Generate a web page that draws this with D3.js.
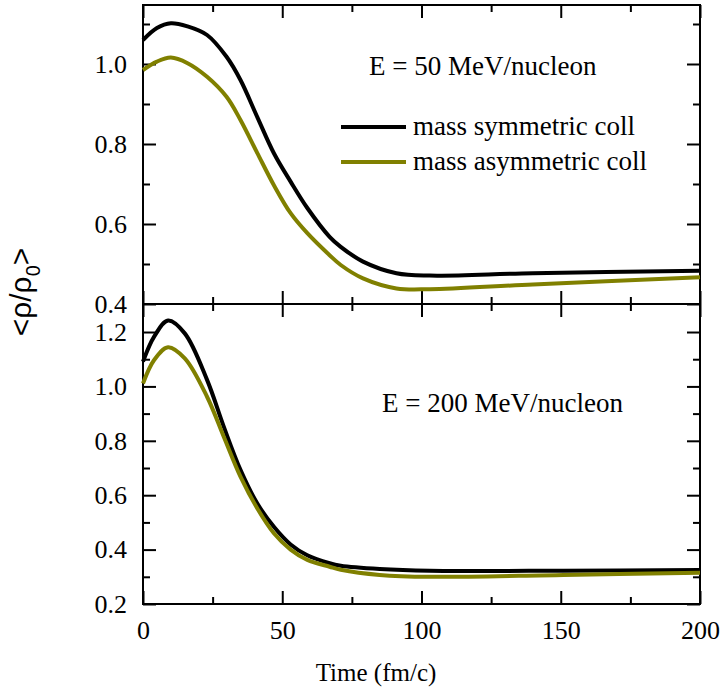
<!DOCTYPE html>
<html>
<head>
<meta charset="utf-8">
<script src="https://cdn.jsdelivr.net/npm/d3@7"></script>
<style>
  body { margin: 0; background: #fff; }
  text { font-family: "Liberation Serif", "Times New Roman", serif; fill: #000; }
  .tick line { stroke: #000; stroke-width: 2; }
  .domain { display: none; }
</style>
</head>
<body>
<svg id="chart"></svg>
<script>
// time values (fm/c)
var timeTop = [0, 5, 10, 16, 23, 30, 35, 41, 47, 53, 59, 67, 71, 79, 91, 103, 140, 200];
var symTop  = [1.06, 1.09, 1.102, 1.094, 1.0725, 1.018, 0.96, 0.868, 0.777, 0.706, 0.64, 0.568, 0.543, 0.506, 0.477, 0.471, 0.477, 0.483];
var asymTop = [0.985, 1.006, 1.016, 1.002, 0.968, 0.918, 0.86, 0.778, 0.697, 0.627, 0.577, 0.522, 0.4975, 0.464, 0.439, 0.437, 0.449, 0.467];

var timeBot = [0, 4, 9, 15, 23, 29, 35, 41, 47, 53, 59, 67, 71, 85, 103, 151, 200];
var symBot  = [1.091, 1.183, 1.242, 1.195, 1.024, 0.852, 0.693, 0.570, 0.484, 0.419, 0.379, 0.350, 0.341, 0.329, 0.3225, 0.3225, 0.325];
var asymBot = [1.011, 1.097, 1.144, 1.103, 0.962, 0.815, 0.668, 0.552, 0.46, 0.40, 0.362, 0.337, 0.326, 0.307, 0.300, 0.307, 0.315];

var xMajor = [0, 50, 100, 150, 200];
var xMinor = [25, 75, 125, 175];
var yTopMajor = [0.4, 0.6, 0.8, 1.0];
var yTopMinor = [0.5, 0.7, 0.9, 1.1];
var yBotMajor = [0.2, 0.4, 0.6, 0.8, 1.0, 1.2];
var yBotMinor = [0.3, 0.5, 0.7, 0.9, 1.1];

var seriesNames = ["mass symmetric coll", "mass asymmetric coll"];
var colors = ["#000000", "#808000"];

var width = 723, height = 693;
var left = 143, right = 700;
var serif = "Liberation Serif, Times New Roman, serif";

var svg = d3.select("#chart")
    .attr("width", width)
    .attr("height", height);

var x = d3.scaleLinear().domain([0, 200]).range([left, right]);

function axisFont(sel) {
  sel.attr("font-family", serif).attr("font-size", 26);
  sel.selectAll("text").attr("font-family", serif).attr("font-size", 26).attr("fill", "#000");
}

function drawPanel(top, bottom, yDomain, majors, minors, times, sets, showX) {
  var y = d3.scaleLinear().domain(yDomain).range([bottom, top]);
  var g = svg.append("g");

  // inward ticks on all four sides
  g.append("g").attr("transform", "translate(" + left + ",0)")
    .call(d3.axisLeft(y).tickValues(majors).tickSize(-13).tickSizeOuter(0).tickPadding(16)
      .tickFormat(d3.format(".1f")))
    .call(axisFont);
  g.append("g").attr("transform", "translate(" + left + ",0)")
    .call(d3.axisLeft(y).tickValues(minors).tickSize(-7).tickSizeOuter(0).tickFormat(""));
  g.append("g").attr("transform", "translate(" + right + ",0)")
    .call(d3.axisRight(y).tickValues(majors).tickSize(-13).tickSizeOuter(0).tickFormat(""));
  g.append("g").attr("transform", "translate(" + right + ",0)")
    .call(d3.axisRight(y).tickValues(minors).tickSize(-7).tickSizeOuter(0).tickFormat(""));

  g.append("g").attr("transform", "translate(0," + top + ")")
    .call(d3.axisTop(x).tickValues(xMajor).tickSize(-13).tickSizeOuter(0).tickFormat(""));
  g.append("g").attr("transform", "translate(0," + top + ")")
    .call(d3.axisTop(x).tickValues(xMinor).tickSize(-7).tickSizeOuter(0).tickFormat(""));
  g.append("g").attr("transform", "translate(0," + bottom + ")")
    .call(d3.axisBottom(x).tickValues(xMajor).tickSize(-13).tickSizeOuter(0).tickPadding(17)
      .tickFormat(showX ? d3.format("d") : ""))
    .call(axisFont);
  g.append("g").attr("transform", "translate(0," + bottom + ")")
    .call(d3.axisBottom(x).tickValues(xMinor).tickSize(-7).tickSizeOuter(0).tickFormat(""));

  // frame
  g.append("rect")
    .attr("x", left).attr("y", top)
    .attr("width", right - left).attr("height", bottom - top)
    .attr("fill", "none").attr("stroke", "#000").attr("stroke-width", 2);

  var line = d3.line()
    .x(function(d) { return x(d[0]); })
    .y(function(d) { return y(d[1]); })
    .curve(d3.curveCatmullRom);

  sets.forEach(function(vals, i) {
    g.append("path")
      .datum(times.map(function(t, j) { return [t, vals[j]]; }))
      .attr("fill", "none")
      .attr("stroke", colors[i])
      .attr("stroke-width", 4)
      .attr("d", line);
  });
  return y;
}

drawPanel(5, 304, [0.4, 1.1475], yTopMajor, yTopMinor, timeTop, [symTop, asymTop], false);
drawPanel(304, 604, [0.2, 1.303], yBotMajor, yBotMinor, timeBot, [symBot, asymBot], true);

// panel labels
svg.append("text").attr("x", 369).attr("y", 75)
  .style("font-size", "27px").text("E = 50 MeV/nucleon");
svg.append("text").attr("x", 382).attr("y", 412)
  .style("font-size", "27px").text("E = 200 MeV/nucleon");

// legend
var leg = svg.append("g");
seriesNames.forEach(function(name, i) {
  var ly = 127 + i * 35;
  leg.append("line")
    .attr("x1", 341).attr("x2", 406).attr("y1", ly).attr("y2", ly)
    .attr("stroke", colors[i]).attr("stroke-width", 4);
  leg.append("text").attr("x", 413).attr("y", ly + 8)
    .style("font-size", "27px").text(name);
});

// axis titles
svg.append("text")
  .attr("x", 376).attr("y", 681)
  .attr("text-anchor", "middle")
  .style("font-size", "25px")
  .text("Time (fm/c)");

var yt = svg.append("text")
  .attr("transform", "translate(31,292) rotate(-90)")
  .attr("text-anchor", "middle")
  .style("font-family", "'Liberation Sans', Arial, sans-serif")
  .style("font-size", "30px");
yt.append("tspan").text("<ρ/ρ");
yt.append("tspan").attr("dy", 9).style("font-size", "20px").text("0");
yt.append("tspan").attr("dy", -9).text(">");
</script>
</body>
</html>
